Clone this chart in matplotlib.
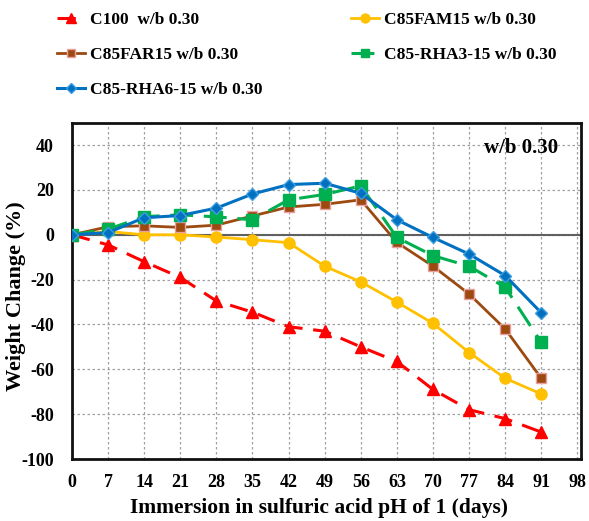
import matplotlib
matplotlib.use("Agg")
import matplotlib.pyplot as plt

days = [0, 7, 14, 21, 28, 35, 42, 49, 56, 63, 70, 77, 84, 91]
c100 = [0, -4.5, -12, -19, -29.5, -34.5, -41, -43, -50, -56.5, -69, -78, -82, -88]
fam15 = [0, 1.5, 0, 0, -1, -2.2, -3.5, -14, -21, -30, -39.5, -52.5, -64, -71]
far15 = [0, 3.6, 4, 3.3, 4.3, 8.4, 12.4, 13.6, 15.6, -3.4, -14, -26.4, -42, -64]
rha3 = [0, 2.5, 8.1, 8.9, 8, 6.7, 15.6, 18, 21.8, -1.2, -9.3, -14, -23.4, -48]
rha6 = [0, 1, 7.6, 8.6, 11.9, 18.2, 22.4, 23, 18.5, 6.7, -1.2, -8.6, -18.2, -34.8]

labels = ["C100  w/b 0.30", "C85FAM15 w/b 0.30", "C85FAR15 w/b 0.30",
          "C85-RHA3-15 w/b 0.30", "C85-RHA6-15 w/b 0.30"]
xticks = list(range(0, 99, 7))
yticks = list(range(-100, 41, 20))

plt.rcParams['font.family'] = ['Liberation Serif', 'DejaVu Serif']
plt.rcParams['font.weight'] = 'bold'
plt.rcParams['axes.unicode_minus'] = False

fig = plt.figure(figsize=(5.89, 5.21), dpi=100)
ax = fig.add_axes([0.1222, 0.119, 0.8642, 0.6455])

h1, = ax.plot(days, c100, color='#FF0000', ls=(0, (6, 3.5)), lw=2.2, marker='^',
              ms=9, mec='#FF0000', label=labels[0], zorder=3)
h2, = ax.plot(days, fam15, color='#FFC000', ls='-', lw=2.0, marker='o',
              ms=8, mec='#FFC000', label=labels[1], zorder=3)
h3, = ax.plot(days, far15, color='#9C4A0F', ls='-', lw=2.0, marker='s',
              ms=7, mfc='#9C4A0F', mec='#E8A0A0', mew=1.0, label=labels[2], zorder=3)
h4, = ax.plot(days, rha3, color='#00B050', ls=(0, (7.5, 3.5)), lw=2.2, marker='s',
              ms=8, mec='#00B050', label=labels[3], zorder=3)
h5, = ax.plot(days, rha6, color='#0070C0', ls='-', lw=2.2, marker='D',
              ms=6, mfc='#0070C0', mec='#3C9EE0', mew=1.0, label=labels[4], zorder=4)

ax.axhline(0, color='#606060', lw=1.5, zorder=2)
ax.set_xlim(0, 98.7)
ax.set_ylim(-100, 50)
ax.set_xticks(xticks)
ax.set_yticks(yticks)
ax.tick_params(length=0, labelsize=13)
ax.tick_params(axis='x', pad=10.5)
ax.tick_params(axis='y', pad=13)
for t in ax.get_xticklabels() + ax.get_yticklabels():
    t.set_fontweight('bold')
ax.grid(True, color='#A0A0A0', ls=(0, (2, 2)), lw=0.9)
for s in ax.spines.values():
    s.set_linewidth(2.0)
    s.set_color('#111111')

ax.set_xlabel("Immersion in sulfuric acid pH of 1 (days)", fontsize=15.5,
              fontweight='bold')
ax.xaxis.label.set_va('center')
ax.xaxis.set_label_coords((319 - 72) / (0.8642 * 589), -49 / (0.6455 * 521))
ax.set_ylabel("Weight Change (%)", fontsize=16, fontweight='bold')
ax.yaxis.label.set_va('center')
ax.yaxis.set_label_coords((16 - 72) / (0.8642 * 589), 0.485)
ax.text(0.955, 0.925, "w/b 0.30", transform=ax.transAxes, ha='right', va='center',
        fontsize=15, fontweight='bold')

fig.legend(handles=[h1, h3, h5, h2, h4], loc='upper left',
           bbox_to_anchor=(0.079, 0.998), ncol=2, frameon=False,
           prop={'size': 12.5, 'weight': 'bold'}, handlelength=1.6,
           handletextpad=0.3, columnspacing=5.1, labelspacing=1.1,
           markerscale=0.8, borderaxespad=0.2)

fig.savefig("out.png", dpi=100)
